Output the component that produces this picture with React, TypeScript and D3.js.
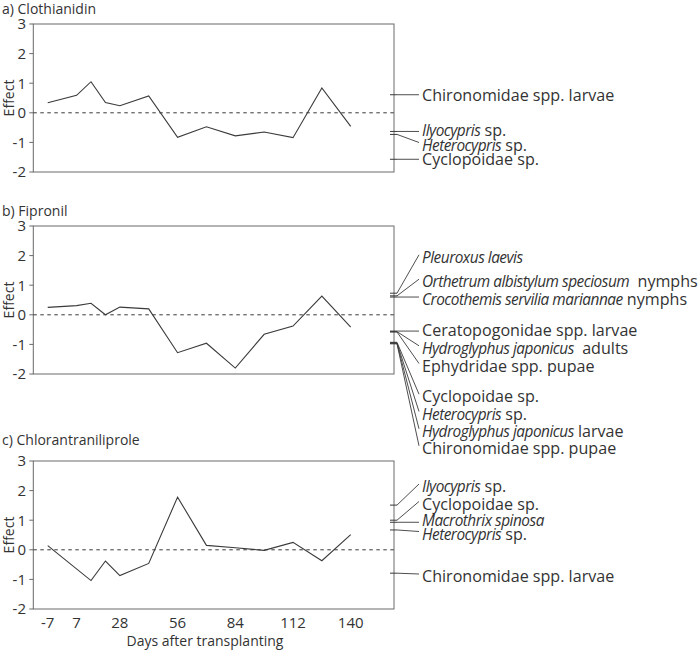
import React from "react";
import * as d3 from "d3";

const days = [-7, 7, 14, 21, 28, 42, 56, 70, 84, 98, 112, 126, 140];
const xTickLabels = [-7, 7, 28, 56, 84, 112, 140];
const yTicks = [3, 2, 1, 0, -1, -2];

const clothianidin = [0.34, 0.59, 1.05, 0.35, 0.24, 0.57, -0.83, -0.47, -0.78, -0.65, -0.84, 0.84, -0.46];
const fipronil = [0.25, 0.31, 0.39, 0.0, 0.26, 0.2, -1.28, -0.96, -1.8, -0.66, -0.38, 0.63, -0.42];
const chlorantraniliprole = [0.14, null, -1.04, -0.38, -0.87, -0.46, 1.78, 0.15, 0.07, -0.02, 0.25, -0.37, 0.51];

const speciesA = ["Chironomidae spp. larvae", "*Ilyocypris* sp.", "*Heterocypris* sp.", "Cyclopoidae sp."];
const scoresA = [0.61, -0.63, -0.73, -1.57];

const speciesB = [
  "*Pleuroxus laevis*",
  "*Orthetrum albistylum speciosum*  nymphs",
  "*Crocothemis servilia mariannae* nymphs",
  "Ceratopogonidae spp. larvae",
  "*Hydroglyphus japonicus*  adults",
  "Ephydridae spp. pupae",
  "Cyclopoidae sp.",
  "*Heterocypris* sp.",
  "*Hydroglyphus japonicus* larvae",
  "Chironomidae spp. pupae",
];
const scoresB = [0.73, 0.64, 0.6, -0.55, -0.57, -0.58, -0.93, -0.95, -0.96, -0.98];

const speciesC = ["*Ilyocypris* sp.", "Cyclopoidae sp.", "*Macrothrix spinosa*", "*Heterocypris* sp.", "Chironomidae spp. larvae"];
const scoresC = [1.51, 1.0, 0.93, 0.67, -0.79];

const titles = ["a) Clothianidin", "b) Fipronil", "c) Chlorantraniliprole"];

// layout (label centres, px from panel top)
const labelPosA = [71, 106, 121, 135];
const labelPosB = [31.3, 55.7, 73.3, 104.7, 122.3, 140, 170.7, 188, 205.3, 222.3];
const labelPosC = [25.5, 43, 59, 73, 115.5];

const panels = [
  { title: titles[0], values: clothianidin, species: speciesA, scores: scoresA, labelPos: labelPosA, top: 24, titleY: 14 },
  { title: titles[1], values: fipronil, species: speciesB, scores: scoresB, labelPos: labelPosB, top: 226, titleY: 216 },
  { title: titles[2], values: chlorantraniliprole, species: speciesC, scores: scoresC, labelPos: labelPosC, top: 461, titleY: 445 },
];

const W = 700;
const H = 651;
const left = 33.3;
const right = 394;
const ph = 148;
const font = "'Open Sans', 'Noto Sans', sans-serif";
const textColor = "#333";
const lineColor = "#3a3a3a";
const boxColor = "#6a6a6a";

function parseName(s: string) {
  const parts = s.split("*");
  return parts.map((t, i) => ({ t, it: i % 2 === 1 })).filter((p) => p.t.length > 0);
}

function Panel({ p }: { p: any }) {
  const x = d3.scaleLinear().domain([-14, 161]).range([left, right]);
  const y = d3.scaleLinear().domain([-2, 3]).range([p.top + ph, p.top]);
  const pts = days.map((d, i) => [d, p.values[i]] as [number, number | null]).filter((d) => d[1] !== null) as [number, number][];
  const line = d3.line<[number, number]>().x((d) => x(d[0])).y((d) => y(d[1]));
  const tickStart = right - 4;
  const tickEnd = right + 3;
  const connEnd = 419;
  return (
    <g>
      <text x={2} y={p.titleY} fontSize={14} fill={textColor} fontFamily={font}>
        {p.title}
      </text>
      <rect x={left} y={p.top} width={right - left} height={ph} fill="none" stroke={boxColor} strokeWidth={1} />
      {yTicks.map((t) => (
        <g key={t}>
          <line x1={left - 4} x2={left} y1={y(t)} y2={y(t)} stroke={boxColor} />
          <text x={26} y={y(t)} dy="0.36em" textAnchor="end" fontSize={15} fill={textColor} fontFamily={font}>
            {t}
          </text>
        </g>
      ))}
      <text
        transform={`translate(${8.5},${p.top + ph / 2}) rotate(-90)`}
        textAnchor="middle"
        dy="0.36em"
        fontSize={14}
        fill={textColor}
        fontFamily={font}
      >
        Effect
      </text>
      <line x1={left} x2={right} y1={y(0)} y2={y(0)} stroke={lineColor} strokeDasharray="3.5,3.5" />
      <path d={line(pts) || ""} fill="none" stroke={lineColor} strokeWidth={1.1} />
      {p.species.map((s: string, i: number) => {
        const sy = y(p.scores[i]);
        const ly = p.top + p.labelPos[i];
        const endY = Math.abs(ly - sy) < 3 ? sy : ly - 2.5;
        return (
          <g key={i}>
            <line x1={tickStart} x2={tickEnd} y1={sy} y2={sy} stroke={lineColor} strokeWidth={1} />
            <line x1={tickEnd} x2={connEnd} y1={sy} y2={endY} stroke={lineColor} strokeWidth={0.9} />
            <text x={422} y={ly} dy="0.35em" fontSize={16.1} fill={textColor} fontFamily={font} style={{ whiteSpace: "pre" }}>
              {parseName(s).map((seg, j) =>
                seg.it ? (
                  <tspan key={j} fontStyle="italic" fontSize={15.4} letterSpacing={-0.5}>
                    {seg.t}
                  </tspan>
                ) : (
                  <tspan key={j}>{seg.t}</tspan>
                )
              )}
            </text>
          </g>
        );
      })}
    </g>
  );
}

export default function App() {
  const x = d3.scaleLinear().domain([-14, 161]).range([left, right]);
  return (
    <svg width={W} height={H} style={{ position: "absolute", left: 0, top: 0, background: "#fff" }}>
      {panels.map((p, i) => (
        <Panel key={i} p={p} />
      ))}
      {xTickLabels.map((t) => (
        <text key={t} x={x(t)} y={628} textAnchor="middle" fontSize={15} fill={textColor} fontFamily={font}>
          {t}
        </text>
      ))}
      <text x={205} y={646} textAnchor="middle" fontSize={14} fill={textColor} fontFamily={font}>
        Days after transplanting
      </text>
    </svg>
  );
}
